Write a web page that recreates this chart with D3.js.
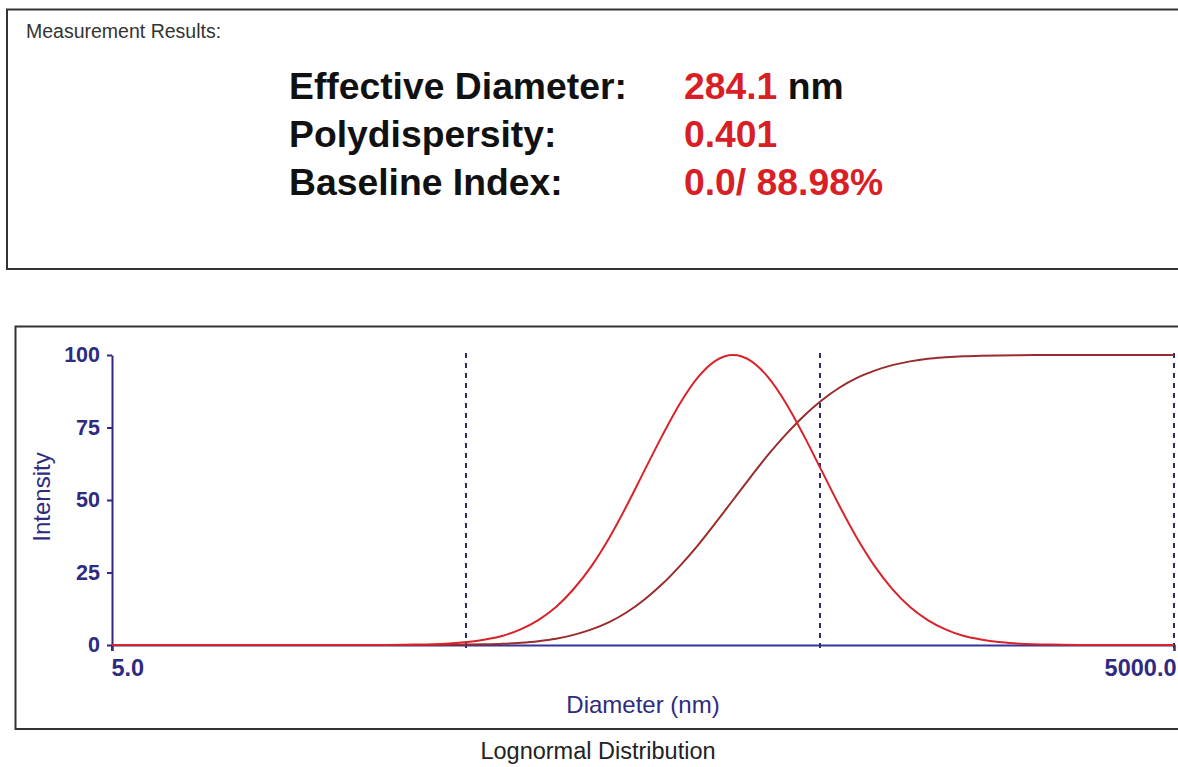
<!DOCTYPE html>
<html>
<head>
<meta charset="utf-8">
<script src="https://cdn.jsdelivr.net/npm/d3@7/dist/d3.min.js"></script>
<style>
  html, body { margin: 0; padding: 0; background: #fff; }
  svg { display: block; font-family: "Liberation Sans", Arial, sans-serif; }
</style>
</head>
<body>
<svg id="chart" width="1178" height="767"></svg>
<script>
// ---------- data ----------
const resultLabels = ["Effective Diameter:", "Polydispersity:", "Baseline Index:"];
const resultValues = ["284.1", "0.401", "0.0/ 88.98%"];
const resultUnits  = [" nm", "", ""];

// diameters (nm) at which the curves were read
const diameters = [5, 28.4, 35.7, 40.2, 45.0, 50.5, 56.7, 63.6, 71.3, 80.0, 89.8, 100.7, 113.1, 126.9, 142.3, 159.7,
  179.2, 201.1, 225.6, 253.1, 284.0, 318.7, 357.5, 401.1, 450.1, 505.0, 566.7, 635.8, 713.4, 800.4, 898.1,
  1007.7, 1130.7, 1268.6, 1423.4, 1597.1, 1792.0, 2010.7, 2256.0, 2840.0, 5000];
// intensity distribution (%)
const intensity = [0, 0, 0.14, 0.28, 0.55, 1.0, 1.9, 3.2, 5.4, 8.6, 13.1, 19.3, 27.2, 36.9, 48.1, 60.2,
  72.2, 83.3, 92.2, 98.0, 100, 98.0, 92.2, 83.3, 72.2, 60.2, 48.1, 36.9, 27.2, 19.3, 13.1,
  8.6, 5.4, 3.2, 1.9, 1.0, 0.55, 0.28, 0.14, 0, 0];
// cumulative intensity (%)
const cumulative = [0, 0, 0.01, 0.03, 0.06, 0.13, 0.24, 0.44, 0.78, 1.32, 2.17, 3.5, 5.4, 7.9, 11.3, 15.7,
  21.0, 27.3, 34.3, 42.0, 50, 58.0, 65.7, 72.7, 79.0, 84.3, 88.7, 92.1, 94.6, 96.5, 97.8,
  98.7, 99.2, 99.56, 99.76, 99.87, 99.94, 99.97, 99.99, 100, 100];

const yTicks = [0, 25, 50, 75, 100];
const xTicks = [5, 5000];
const markers = [50, 500, 5000];

// ---------- drawing ----------
const svg = d3.select("#chart");
svg.append("rect").attr("width", 1178).attr("height", 767).attr("fill", "#fff");

// top results box
svg.append("rect").attr("x", 7).attr("y", 9.5).attr("width", 1200).attr("height", 259.5)
  .attr("fill", "none").attr("stroke", "#333").attr("stroke-width", 2);
svg.append("text").attr("x", 26).attr("y", 38).attr("font-size", 19.5).attr("fill", "#333")
  .text("Measurement Results:");

const rows = svg.append("g");
resultLabels.forEach((lab, i) => {
  const by = 99 + i * 48;
  rows.append("text").attr("x", 289).attr("y", by).attr("font-size", 37.3).attr("font-weight", "bold")
    .attr("fill", "#111").text(lab);
  const t = rows.append("text").attr("x", 684).attr("y", by).attr("font-size", 37.3).attr("font-weight", "bold");
  t.append("tspan").attr("fill", "#d81f26").text(resultValues[i]);
  if (resultUnits[i]) t.append("tspan").attr("fill", "#111").text(resultUnits[i]);
});

// bottom chart box
svg.append("rect").attr("x", 15.5).attr("y", 326.5).attr("width", 1200).attr("height", 402.5)
  .attr("fill", "none").attr("stroke", "#333").attr("stroke-width", 2);

const x = d3.scaleLog().domain([5, 5000]).range([112, 1174]);
const y = d3.scaleLinear().domain([0, 100]).range([645, 355]);
const navy = "#2e2b80";

// x axis
const xAxis = svg.append("g").attr("transform", "translate(0,645)")
  .call(d3.axisBottom(x).tickValues(xTicks).tickFormat(d3.format(".1f")).tickSize(6).tickPadding(8));
xAxis.select(".domain").attr("stroke", "#3434a0").attr("stroke-width", 2);
xAxis.selectAll(".tick line").attr("stroke", navy).attr("stroke-width", 2);
xAxis.selectAll(".tick text").attr("font-size", 23.5).attr("font-weight", "bold").attr("fill", navy)
  .attr("font-family", "Liberation Sans, Arial, sans-serif")
  .attr("text-anchor", (d, i) => i === 0 ? "start" : "end")
  .attr("dx", (d, i) => i === 0 ? -1 : 2);

// y axis
const yAxis = svg.append("g").attr("transform", "translate(112,0)")
  .call(d3.axisLeft(y).tickValues(yTicks).tickSize(5).tickSizeOuter(0).tickPadding(7));
yAxis.select(".domain").attr("stroke", navy).attr("stroke-width", 2);
yAxis.selectAll(".tick line").attr("stroke", navy).attr("stroke-width", 2);
yAxis.selectAll(".tick text").attr("font-size", 21.5).attr("font-weight", "bold").attr("fill", navy)
  .attr("font-family", "Liberation Sans, Arial, sans-serif");
// extend y axis slightly below zero
svg.append("line").attr("x1", 112).attr("x2", 112).attr("y1", 645).attr("y2", 651)
  .attr("stroke", navy).attr("stroke-width", 2);

// dashed markers
svg.append("g").selectAll("line").data(markers).join("line")
  .attr("x1", d => x(d)).attr("x2", d => x(d))
  .attr("y1", 353).attr("y2", 648)
  .attr("stroke", "#2d2d6a").attr("stroke-width", 2).attr("stroke-dasharray", "5,5");

const pts = (vals) => diameters.map((d, i) => [d, vals[i]]);
const line = d3.line().x(d => x(d[0])).y(d => y(d[1])).curve(d3.curveMonotoneX);

svg.append("path").attr("d", line(pts(cumulative)))
  .attr("fill", "none").attr("stroke", "#9a2c2c").attr("stroke-width", 2);
svg.append("path").attr("d", line(pts(intensity)))
  .attr("fill", "none").attr("stroke", "#d8232a").attr("stroke-width", 2);

// axis titles
svg.append("text").attr("transform", "translate(50,497) rotate(-90)").attr("text-anchor", "middle")
  .attr("font-size", 24).attr("fill", navy).text("Intensity");
svg.append("text").attr("x", 643).attr("y", 713).attr("text-anchor", "middle")
  .attr("font-size", 24).attr("fill", navy).text("Diameter (nm)");
svg.append("text").attr("x", 598).attr("y", 759).attr("text-anchor", "middle")
  .attr("font-size", 23.5).attr("fill", "#222").text("Lognormal Distribution");
</script>
</body>
</html>
